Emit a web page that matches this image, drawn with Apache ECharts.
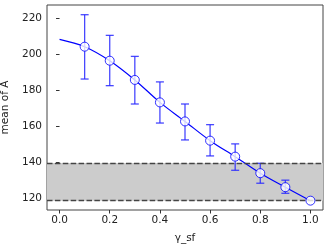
<!DOCTYPE html>
<html><head><meta charset="utf-8">
<script src="https://cdn.jsdelivr.net/npm/echarts@6/dist/echarts.min.js"></script>
<style>html,body{margin:0;padding:0;background:#fff}#c{width:329px;height:247px}</style>
</head><body><div id="c"></div>
<script>
const curveX = [0.0, 0.1, 0.2, 0.3, 0.4, 0.5, 0.6, 0.7, 0.8, 0.9, 1.0];
const curveY = [208.3, 204.2, 196.4, 185.7, 173.2, 162.6, 151.9, 143.0, 133.8, 126.0, 118.5];
const pointX = [0.1, 0.2, 0.3, 0.4, 0.5, 0.6, 0.7, 0.8, 0.9, 1.0];
const pointY = [204.2, 196.4, 185.7, 173.2, 162.6, 151.9, 143.0, 133.8, 126.0, 118.5];
const errLow = [186.2, 182.5, 172.3, 161.7, 152.3, 143.4, 135.4, 128.2, 122.6, 118.5];
const errHigh = [222.0, 210.5, 198.8, 184.6, 172.3, 160.8, 150.1, 139.3, 129.9, 118.5];
const bandLow = 118.5, bandHigh = 139.5;
const xTicks = [0.0, 0.2, 0.4, 0.6, 0.8, 1.0];
const yTicks = [120, 140, 160, 180, 200, 220];

const chart = echarts.init(document.getElementById('c'));
const font = 'DejaVu Sans';
chart.setOption({
  animation: false,
  grid: {left: 47, right: 6, top: 5, bottom: 37, outerBoundsMode: 'none', containLabel: false,
    show: true, borderColor: '#444', borderWidth: 1, backgroundColor: 'transparent'},
  xAxis: {
    type: 'value', min: -0.05, max: 1.05,
    name: 'γ_sf', nameLocation: 'middle', nameGap: 23,
    nameTextStyle: {fontFamily: font, fontSize: 10.5, color: '#222'},
    axisLine: {show: false}, splitLine: {show: false},
    axisTick: {show: true, customValues: xTicks, length: 3.5, inside: false, lineStyle: {color: '#333'}},
    axisLabel: {customValues: xTicks, fontFamily: font, fontSize: 10.5, color: '#222', margin: 5, formatter: v => v.toFixed(1)}
  },
  yAxis: {
    type: 'value', min: 113.3, max: 227.4,
    name: 'mean of A', nameLocation: 'middle', nameGap: 34,
    nameTextStyle: {fontFamily: font, fontSize: 10.5, color: '#222'},
    axisLine: {show: false}, splitLine: {show: false},
    axisTick: {show: true, customValues: yTicks, length: 3.5, lineStyle: {color: '#333'}},
    axisLabel: {customValues: yTicks, fontFamily: font, fontSize: 10.5, color: '#222', margin: 5}
  },
  series: [
    {
      type: 'line', data: curveX.map((x, i) => [x, curveY[i]]), smooth: 0.35, showSymbol: false,
      lineStyle: {color: '#0000ff', width: 1.2}, z: 3,
      markArea: {silent: true, itemStyle: {color: '#cccccc'}, data: [[{yAxis: bandLow}, {yAxis: bandHigh}]]},
      markLine: {silent: true, symbol: 'none', label: {show: false},
        lineStyle: {color: '#444', width: 1.4, type: [5.5, 2.4]},
        data: [{yAxis: bandLow}, {yAxis: bandHigh}]}
    },
    {
      type: 'custom', z: 4,
      data: pointX.map((x, i) => [x, errLow[i], errHigh[i]]),
      renderItem: (params, api) => {
        const x = api.value(0);
        const lo = api.coord([x, api.value(1)]);
        const hi = api.coord([x, api.value(2)]);
        if (Math.abs(lo[1] - hi[1]) < 0.5) return null;
        const w = 4;
        const st = {stroke: 'rgba(40,40,255,0.85)', lineWidth: 1.3};
        return {type: 'group', children: [
          {type: 'line', shape: {x1: lo[0], y1: lo[1], x2: hi[0], y2: hi[1]}, style: st},
          {type: 'line', shape: {x1: lo[0] - w, y1: lo[1], x2: lo[0] + w, y2: lo[1]}, style: st},
          {type: 'line', shape: {x1: hi[0] - w, y1: hi[1], x2: hi[0] + w, y2: hi[1]}, style: st}
        ]};
      }
    },
    {
      type: 'scatter', z: 5, data: pointX.map((x, i) => [x, pointY[i]]), symbol: 'circle', symbolSize: 9,
      itemStyle: {color: '#ffffff', borderColor: '#0000ff', borderWidth: 1}
    }
  ]
});
</script></body></html>
